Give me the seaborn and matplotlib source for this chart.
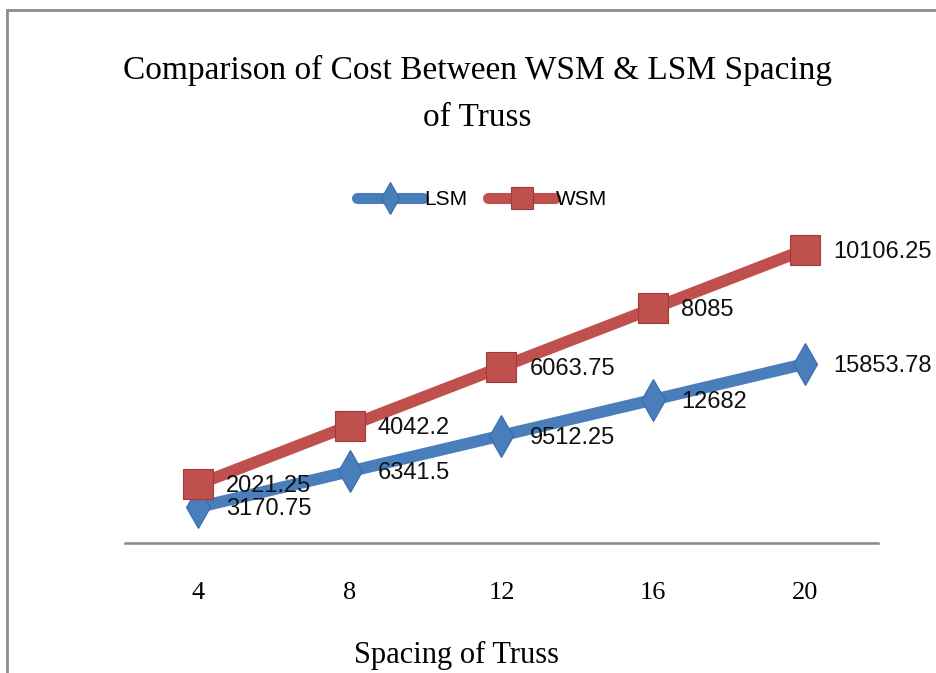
import pandas as pd
import matplotlib
matplotlib.use("Agg")
import matplotlib.pyplot as plt
import seaborn as sns
from matplotlib.patches import Rectangle

# Valores (línea apilada estilo Excel)
spacing = [4, 8, 12, 16, 20]
lsm = [3170.75, 6341.5, 9512.25, 12682, 15853.78]
wsm = [2021.25, 4042.2, 6063.75, 8085, 10106.25]
lsm_labels = ["3170.75", "6341.5", "9512.25", "12682", "15853.78"]
wsm_labels = ["2021.25", "4042.2", "6063.75", "8085", "10106.25"]

blue = "#4A7EBB"
red = "#C0504D"

sns.set_theme(style="white")
plt.rcParams['font.family'] = ['Liberation Sans', 'DejaVu Sans']
plt.rcParams['text.color'] = 'black'
plt.rcParams['xtick.color'] = 'black'

# apilado: WSM se dibuja sobre LSM
stacked_wsm = [a + b for a, b in zip(lsm, wsm)]
df = pd.DataFrame({
    'Spacing': spacing * 2,
    'Cost': lsm + stacked_wsm,
    'Series': ['LSM'] * len(spacing) + ['WSM'] * len(spacing),
})

fig = plt.figure(figsize=(9.36, 6.73), dpi=100)
ax = fig.add_axes([0.1335, 0.193, 0.8045, 0.504])

sns.lineplot(data=df, x='Spacing', y='Cost', hue='Series', style='Series',
             palette={'LSM': blue, 'WSM': red},
             markers={'LSM': 'd', 'WSM': 's'}, dashes=False,
             linewidth=8.5, markersize=21, markeredgewidth=0.8,
             ax=ax, legend=True)
for ln in ax.lines:
    ln.set_solid_capstyle('round')
    if ln.get_marker() == 's':
        ln.set_markeredgecolor('#A33A37')
    else:
        ln.set_markeredgecolor('#3A6BA8')

# etiquetas de datos
for x, y, t in zip(spacing, lsm, lsm_labels):
    ax.annotate(t, (x, y), xytext=(28, -2), textcoords='offset pixels',
                va='center', ha='left', fontsize=17, color='#111111')
for x, y, t in zip(spacing, stacked_wsm, wsm_labels):
    ax.annotate(t, (x, y), xytext=(28, -2), textcoords='offset pixels',
                va='center', ha='left', fontsize=17, color='#111111')

ax.set_xlim(4 - 0.48 * 4, 20 + 0.48 * 4)
ax.set_ylim(0, 30000)
ax.set_xticks(spacing)
ax.set_xticklabels([str(s) for s in spacing], family='Liberation Serif', fontsize=19)
ax.tick_params(axis='x', length=0, pad=28)
ax.set_yticks([])
ax.set_xlabel('')
ax.set_ylabel('')
for s in ['top', 'right', 'left']:
    ax.spines[s].set_visible(False)
ax.spines['bottom'].set_color('#888888')
ax.spines['bottom'].set_linewidth(1.8)

# leyenda arriba
handles, labels = ax.get_legend_handles_labels()
ax.legend_.remove()
for h in handles:
    h.set_linewidth(8)
    h.set_markersize(16)
    h.set_solid_capstyle('round')
fig.legend(handles, labels, loc='center', bbox_to_anchor=(0.515, 0.703),
           ncol=2, frameon=False, fontsize=15, handlelength=3.2,
           handletextpad=0.05, columnspacing=1.0)

# título y etiqueta del eje
fig.text(0.51, 0.895, 'Comparison of Cost Between WSM & LSM Spacing',
         ha='center', va='center', family='Liberation Serif', fontsize=24)
fig.text(0.51, 0.825, 'of Truss', ha='center', va='center',
         family='Liberation Serif', fontsize=24)
fig.text(0.488, 0.026, 'Spacing of Truss', ha='center', va='center',
         family='Liberation Serif', fontsize=22)

# marco del gráfico
fig.patches.append(Rectangle((7 / 936, -0.1), 1.2, 1 - 10 / 673 + 0.1,
                             transform=fig.transFigure, fill=False,
                             edgecolor='#8C8C8C', linewidth=2))

fig.savefig('out.png', dpi=100)
